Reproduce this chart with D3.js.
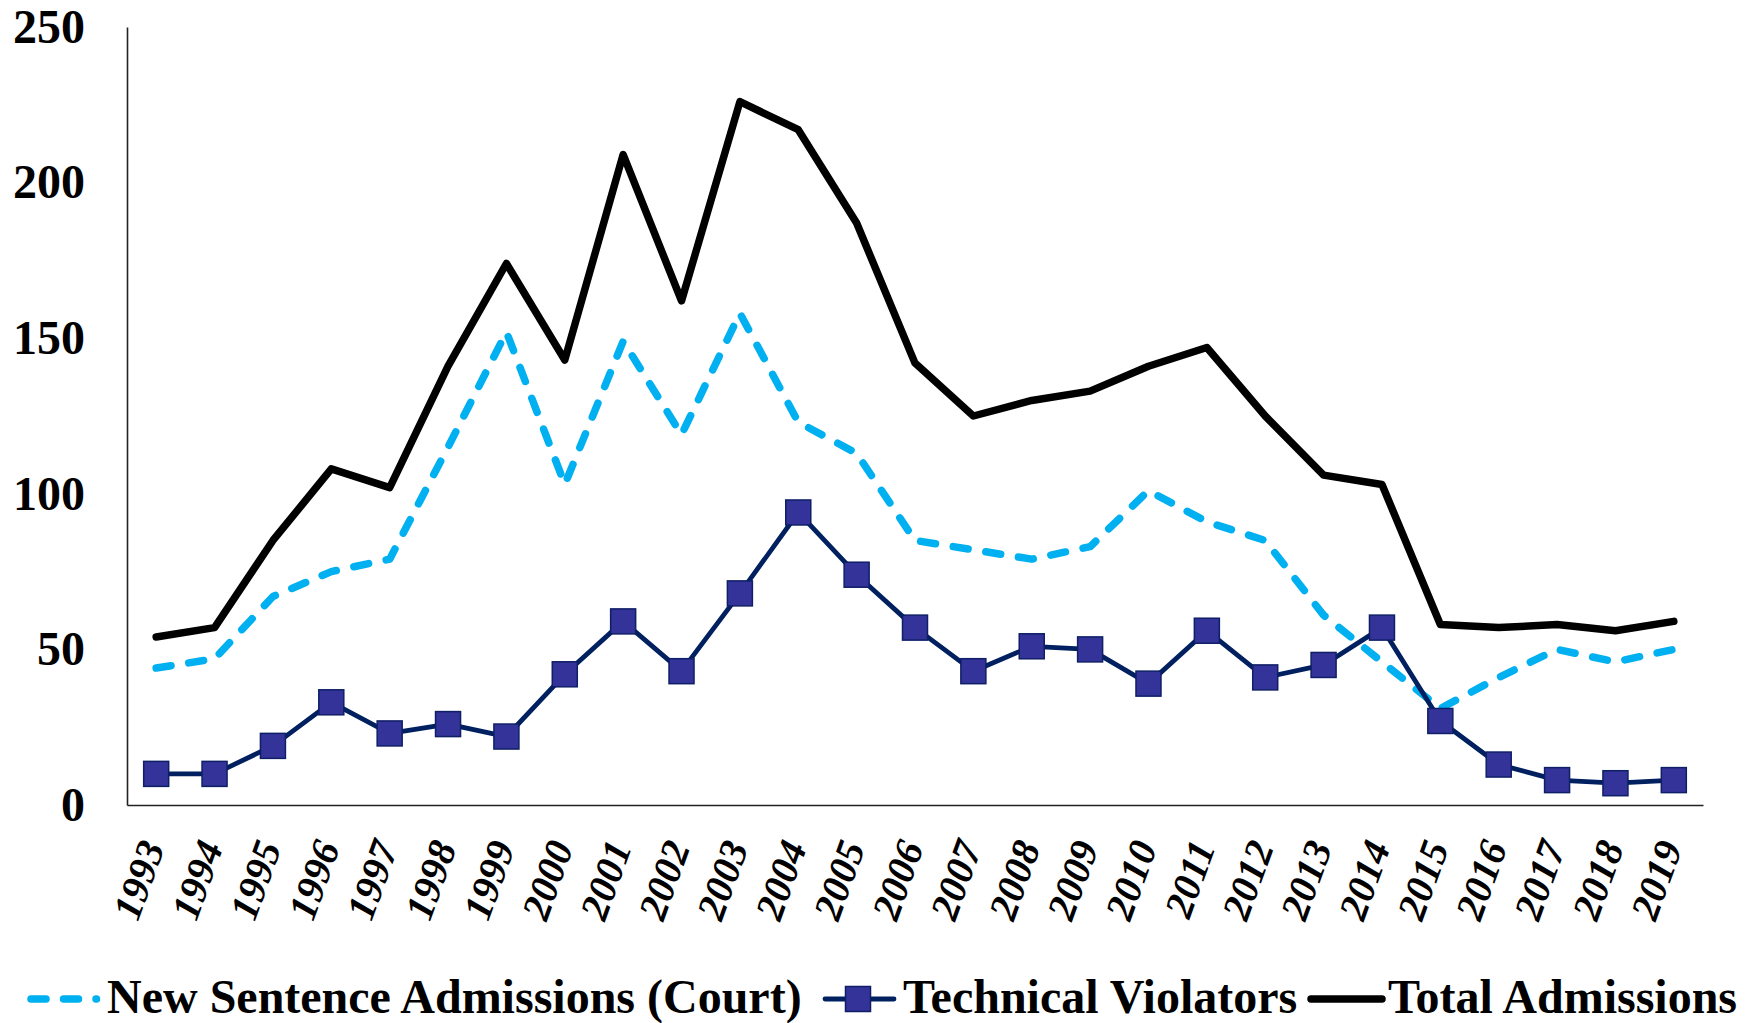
<!DOCTYPE html>
<html>
<head>
<meta charset="utf-8">
<script src="https://cdnjs.cloudflare.com/ajax/libs/d3/7.8.5/d3.min.js"></script>
<style>
  body { margin: 0; background: #fff; }
  svg { display: block; font-family: "Liberation Serif", "Times New Roman", serif; }
</style>
</head>
<body>
<svg></svg>
<script>
const years = ['1993','1994','1995','1996','1997','1998','1999','2000','2001','2002','2003','2004','2005','2006',
               '2007','2008','2009','2010','2011','2012','2013','2014','2015','2016','2017','2018','2019'];

const newSentence = [44, 47, 67, 75, 79, 115, 152, 103, 149, 119, 158, 123, 113, 85,
                     82, 79, 83, 101, 91, 85, 61, 46, 31, 41, 50, 46, 50];
const technical   = [10, 10, 19, 33, 23, 26, 22, 42, 59, 43, 68, 94, 74, 57,
                     43, 51, 50, 39, 56, 41, 45, 57, 27, 13, 8, 7, 8];
const total       = [54, 57, 85, 108, 102, 141, 174, 143, 209, 162, 226, 217, 187, 142,
                     125, 130, 133, 141, 147, 125, 106, 103, 58, 57, 58, 56, 59];

const yTicks = [0, 50, 100, 150, 200, 250];
const legendNames = ['New Sentence Admissions (Court)', 'Technical Violators', 'Total Admissions'];

const svg = d3.select('svg')
	.attr('width', 1758)
	.attr('height', 1023);

const plotLeft = 127, plotRight = 1703, plotTop = 27, plotBottom = 805;

const x = d3.scaleBand()
	.domain(years)
	.range([plotLeft, plotRight]);

const y = d3.scaleLinear()
	.domain([0, 250])
	.range([plotBottom, plotTop]);

const cx = d => x(d) + x.bandwidth() / 2;

// axes
svg.append('g')
	.attr('transform', `translate(${plotLeft},0)`)
	.call(d3.axisLeft(y).tickValues(yTicks).tickSize(0).tickPadding(42))
	.call(g => g.select('.domain').attr('stroke', '#222').attr('stroke-width', 1.6))
	.call(g => g.selectAll('text')
		.attr('font-family', '"Liberation Serif", serif')
		.attr('font-size', 48)
		.attr('font-weight', 'bold')
		.attr('fill', '#000'));

svg.append('g')
	.attr('transform', `translate(0,${plotBottom})`)
	.call(d3.axisBottom(x).tickSize(0).tickFormat(''))
	.call(g => g.select('.domain').attr('stroke', '#222').attr('stroke-width', 1.6));

svg.append('g')
	.selectAll('text')
	.data(years)
	.join('text')
		.attr('transform', d => `translate(${cx(d) + 9},${plotBottom + 42}) rotate(-70)`)
		.attr('text-anchor', 'end')
		.attr('font-size', 40)
		.attr('font-weight', 'bold')
		.attr('font-style', 'italic')
		.text(d => d);

const line = d3.line()
	.x((d, i) => cx(years[i]))
	.y(d => y(d));

// series
svg.append('path')
	.datum(newSentence)
	.attr('d', line)
	.attr('fill', 'none')
	.attr('stroke', '#00B0F0')
	.attr('stroke-width', 7.5)
	.attr('stroke-linecap', 'round')
	.attr('stroke-linejoin', 'round')
	.attr('stroke-dasharray', '15 18');

svg.append('path')
	.datum(technical)
	.attr('d', line)
	.attr('fill', 'none')
	.attr('stroke', '#002060')
	.attr('stroke-width', 4.8)
	.attr('stroke-linejoin', 'round');

svg.append('g')
	.selectAll('rect')
	.data(technical)
	.join('rect')
		.attr('x', (d, i) => cx(years[i]) - 12.5)
		.attr('y', d => y(d) - 12.5)
		.attr('width', 25)
		.attr('height', 25)
		.attr('fill', '#333399')
		.attr('stroke', '#0F1F66')
		.attr('stroke-width', 1.5);

svg.append('path')
	.datum(total)
	.attr('d', line)
	.attr('fill', 'none')
	.attr('stroke', '#000')
	.attr('stroke-width', 7.5)
	.attr('stroke-linejoin', 'round')
	.attr('stroke-linecap', 'round');

// legend
const legendY = 999;
const legendX = [27, 823, 1308];
const symW = 73;

const legend = svg.append('g')
	.selectAll('g')
	.data(legendNames)
	.join('g')
		.attr('transform', (d, i) => `translate(${legendX[i]},${legendY})`);

legend.each(function (d, i) {
	const g = d3.select(this);
	if (i === 0) {
		g.append('line')
			.attr('x1', 4).attr('x2', 69.5)
			.attr('stroke', '#00B0F0').attr('stroke-width', 7.5)
			.attr('stroke-linecap', 'round')
			.attr('stroke-dasharray', '15 17.5');
	} else if (i === 1) {
		g.append('line')
			.attr('x1', 2).attr('x2', symW - 2)
			.attr('stroke', '#002060').attr('stroke-width', 4.8)
			.attr('stroke-linecap', 'round');
		g.append('rect')
			.attr('x', 35 - 12.5).attr('y', -12.5)
			.attr('width', 25).attr('height', 25)
			.attr('fill', '#333399').attr('stroke', '#0F1F66').attr('stroke-width', 1.5);
	} else {
		g.append('line')
			.attr('x1', 3).attr('x2', symW + 1)
			.attr('stroke', '#000').attr('stroke-width', 7.5)
			.attr('stroke-linecap', 'round');
	}
	g.append('text')
		.attr('x', 80)
		.attr('y', 14)
		.attr('font-size', 48)
		.attr('font-weight', 'bold')
		.text(d);
});
</script>
</body>
</html>
